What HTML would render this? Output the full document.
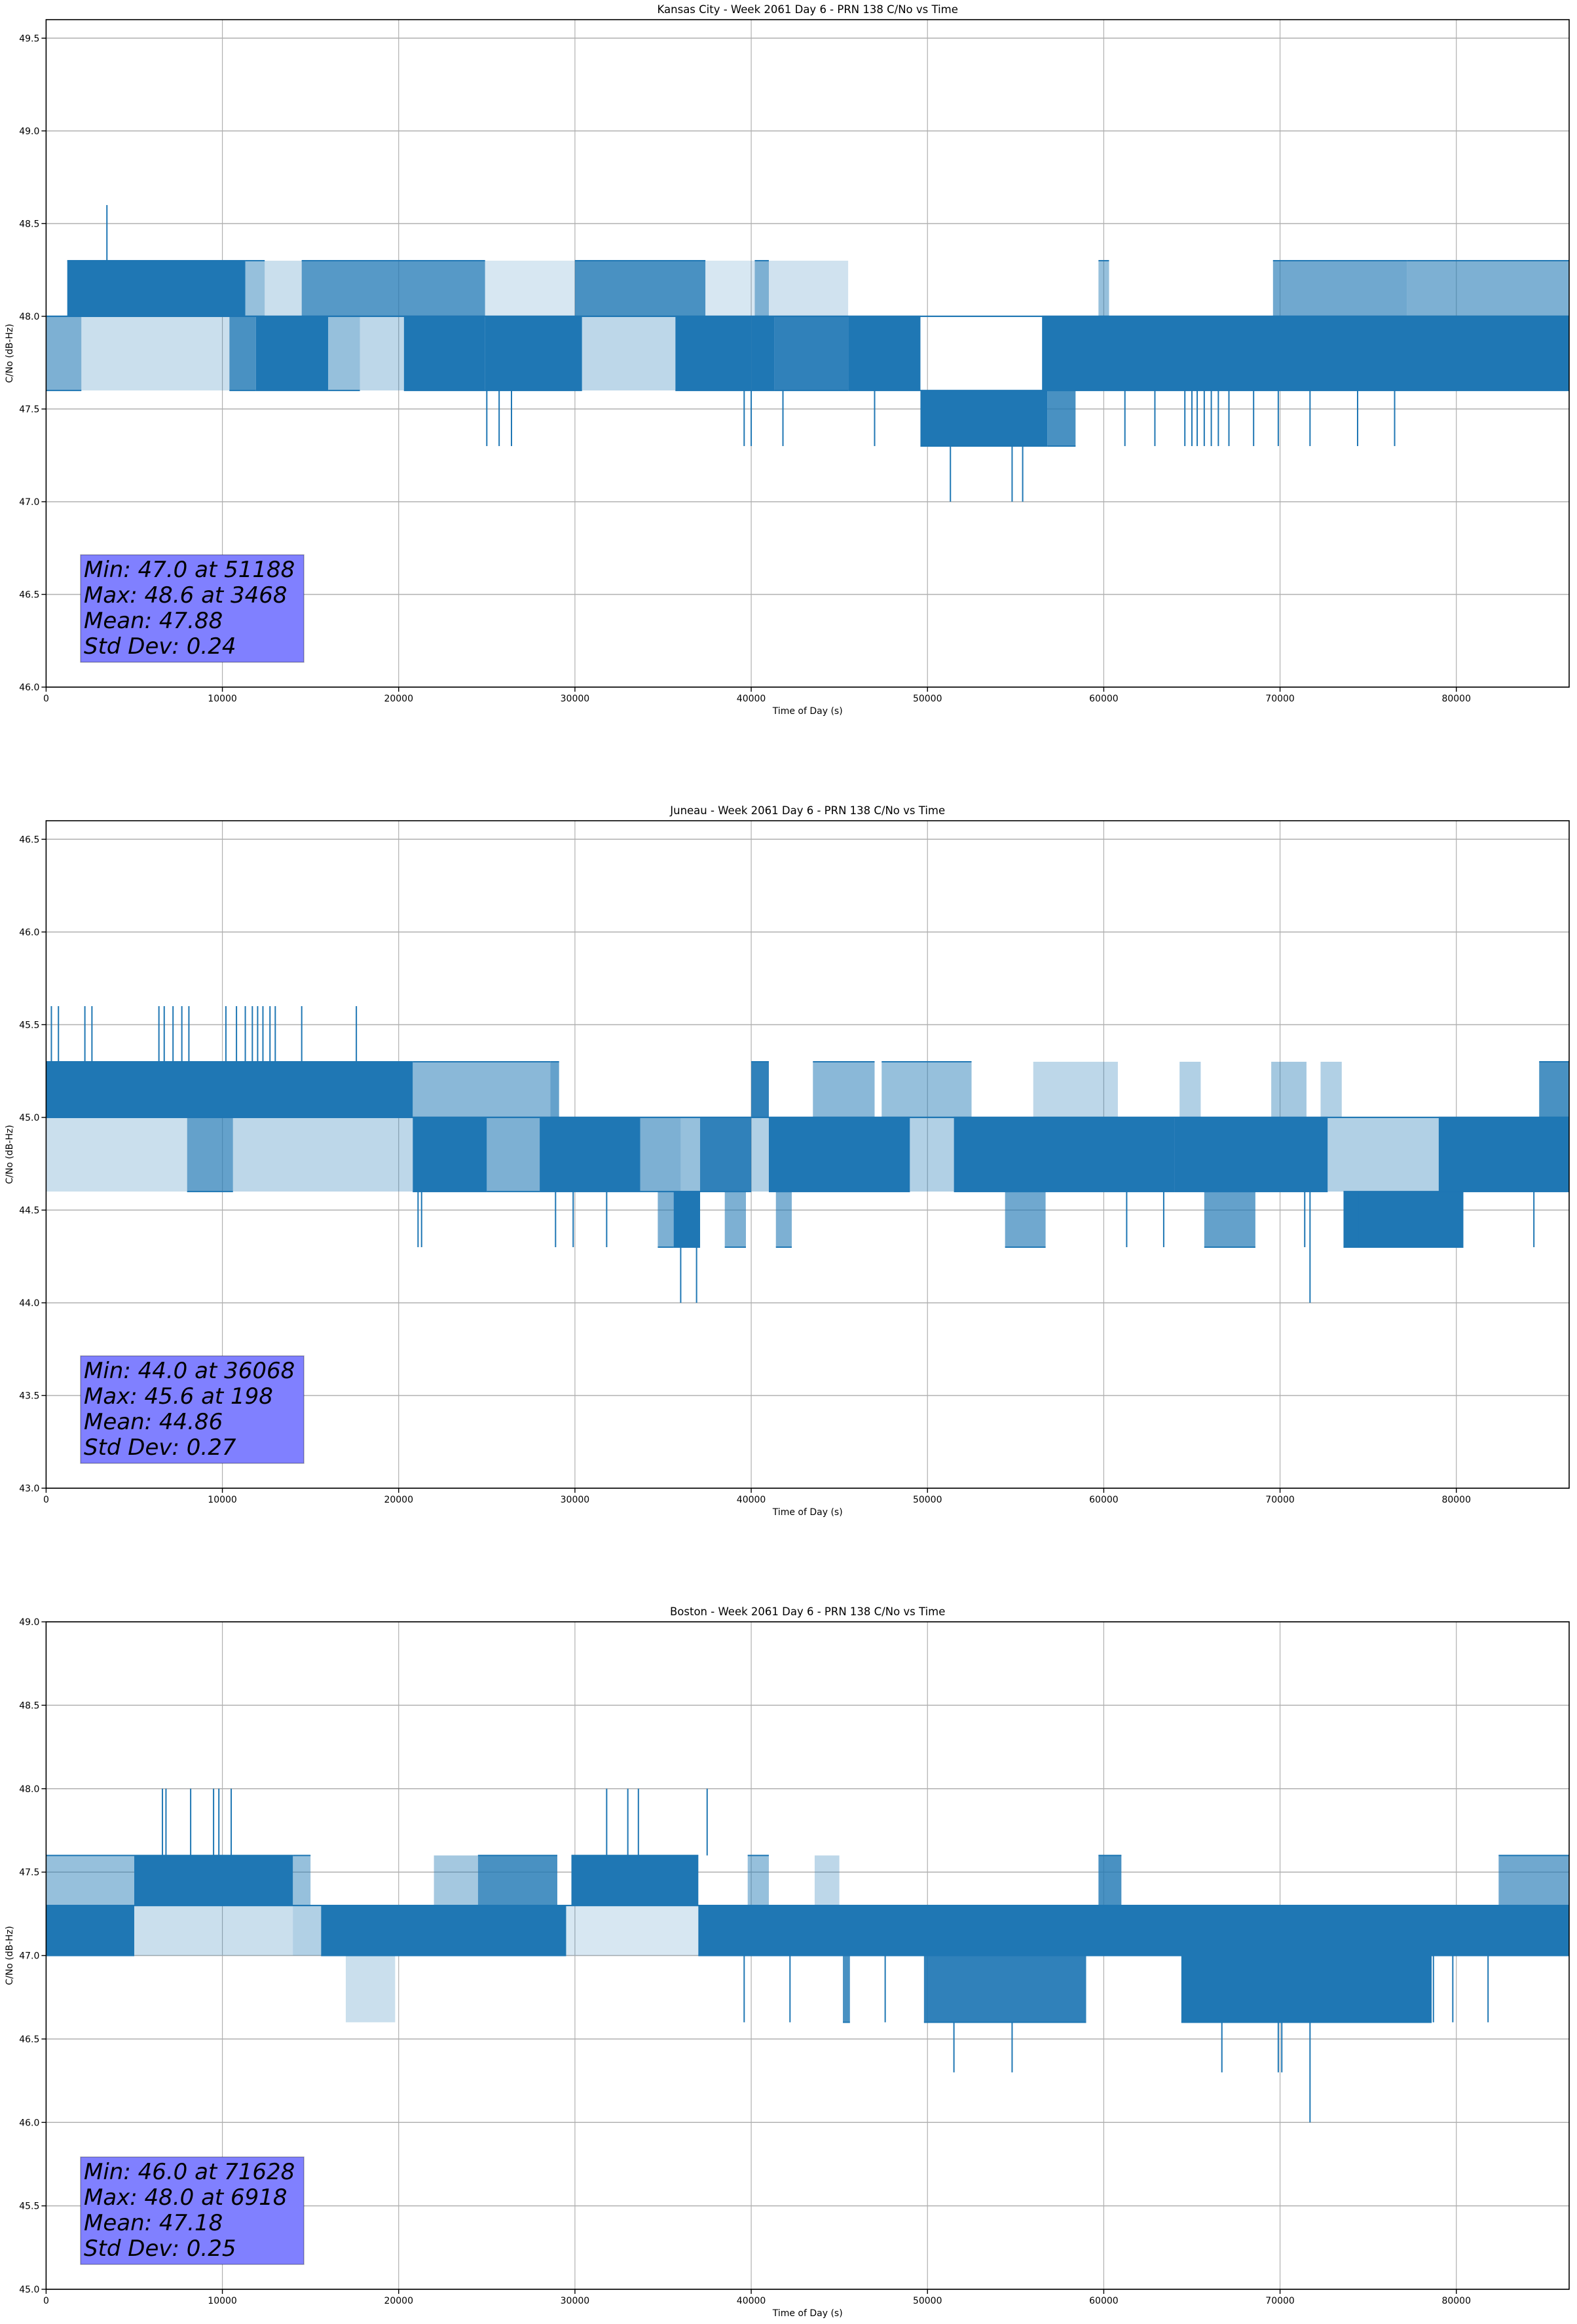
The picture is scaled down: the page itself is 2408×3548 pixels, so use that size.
<!DOCTYPE html>
<html><head><meta charset="utf-8">
<style>
html,body{margin:0;padding:0;background:#fff;}
svg{display:block;font-family:"DejaVu Sans","Liberation Sans",sans-serif;}
</style></head>
<body>
<svg id="fig" width="2408" height="3548" viewBox="0 0 2408 3548" xmlns="http://www.w3.org/2000/svg"></svg>
<script>
// ---------- shared axis data ----------
const xTicks = [0,10000,20000,30000,40000,50000,60000,70000,80000];
const xMax = 86400;

// ---------- Kansas City ----------
const kcTitle = "Kansas City - Week 2061 Day 6 - PRN 138 C/No vs Time";
const kcYTicks = [46.0,46.5,47.0,47.5,48.0,48.5,49.0,49.5];
const kcYRange = [46.0,49.6];
const kcBandStart = [1200,11300,12400,14500,24900,30000,37400,40200,41000,59700,69600,77200, 0,2000,10400,11900,16000,17800,20300,24900,30400,35700,40000,41300,45500,56500, 49600,56800, 0];
const kcBandEnd   = [11300,12400,14500,24900,30000,37400,40200,41000,45500,60300,77200,86400, 2000,10400,11900,16000,17800,20300,24900,30400,35700,40000,41300,45500,49600,86400, 56800,58400, 86400];
const kcBandLow   = [48,48,48,48,48,48,48,48,48,48,48,48, 47.6,47.6,47.6,47.6,47.6,47.6,47.6,47.6,47.6,47.6,47.6,47.6,47.6,47.6, 47.3,47.3, 48];
const kcBandHigh  = [48.3,48.3,48.3,48.3,48.3,48.3,48.3,48.3,48.3,48.3,48.3,48.3, 48,48,48,48,48,48,48,48,48,48,48,48,48,48, 47.6,47.6, 48];
const kcBandDensity = [0.9,0.3,0.1,0.55,0.05,0.6,0.05,0.4,0.08,0.3,0.45,0.4, 0.4,0.1,0.6,0.85,0.3,0.15,0.8,0.95,0.15,0.8,0.8,0.7,0.95,0.85, 0.95,0.6, 1];
const kcSpikeT    = [25000,25700,26400,39600,40000,41800,47000,61200,62900,64600,65000,65300,65700,66100,66500,67100,68500,69900,71700,74400,76500,51300,54800,55400,3450];
const kcSpikeFrom = [47.6,47.6,47.6,47.6,47.6,47.6,47.6,47.6,47.6,47.6,47.6,47.6,47.6,47.6,47.6,47.6,47.6,47.6,47.6,47.6,47.6,47.3,47.3,47.3,48.3];
const kcSpikeTo   = [47.3,47.3,47.3,47.3,47.3,47.3,47.3,47.3,47.3,47.3,47.3,47.3,47.3,47.3,47.3,47.3,47.3,47.3,47.3,47.3,47.3,47.0,47.0,47.0,48.6];
const kcStats = ["Min: 47.0 at 51188","Max: 48.6 at 3468","Mean: 47.88","Std Dev: 0.24"];

// ---------- Juneau ----------
const juTitle = "Juneau - Week 2061 Day 6 - PRN 138 C/No vs Time";
const juYTicks = [43.0,43.5,44.0,44.5,45.0,45.5,46.0,46.5];
const juYRange = [43.0,46.6];
const juBandStart = [0,20800,28600,40000,43500,47400,56000,64300,69500,72300,84700, 0,8000,10600,20800,25000,28000,33700,36000,37100,40000,41000,49000,51500,64000,72700,79000, 34700,35600,38500,41400,54400,65700,73600, 0];
const juBandEnd   = [20800,28600,29100,41000,47000,52500,60800,65500,71500,73500,86400, 8000,10600,20800,25000,28000,33700,36000,37100,40000,41000,49000,51500,64000,72700,79000,86400, 35600,37100,39700,42300,56700,68600,80400, 86400];
const juBandLow   = [45,45,45,45,45,45,45,45,45,45,45, 44.6,44.6,44.6,44.6,44.6,44.6,44.6,44.6,44.6,44.6,44.6,44.6,44.6,44.6,44.6,44.6, 44.3,44.3,44.3,44.3,44.3,44.3,44.3, 45];
const juBandHigh  = [45.3,45.3,45.3,45.3,45.3,45.3,45.3,45.3,45.3,45.3,45.3, 45,45,45,45,45,45,45,45,45,45,45,45,45,45,45,45, 44.6,44.6,44.6,44.6,44.6,44.6,44.6, 45];
const juBandDensity = [0.9,0.35,0.5,0.7,0.35,0.3,0.15,0.2,0.25,0.2,0.6, 0.1,0.5,0.15,0.85,0.4,0.9,0.4,0.3,0.7,0.2,0.85,0.2,0.85,0.8,0.2,0.85, 0.4,0.95,0.4,0.4,0.45,0.5,0.9, 1];
const juSpikeT    = [300,700,2200,2600,6400,6700,7200,7700,8100,10200,10800,11300,11700,12000,12300,12700,13000,14500,17600, 21100,21300,28900,29900,31800,61300,63400,71400,74500,84400, 36000,36900,71700];
const juSpikeFrom = [45.3,45.3,45.3,45.3,45.3,45.3,45.3,45.3,45.3,45.3,45.3,45.3,45.3,45.3,45.3,45.3,45.3,45.3,45.3, 44.6,44.6,44.6,44.6,44.6,44.6,44.6,44.6,44.6,44.6, 44.3,44.3,44.6];
const juSpikeTo   = [45.6,45.6,45.6,45.6,45.6,45.6,45.6,45.6,45.6,45.6,45.6,45.6,45.6,45.6,45.6,45.6,45.6,45.6,45.6, 44.3,44.3,44.3,44.3,44.3,44.3,44.3,44.3,44.3,44.3, 44.0,44.0,44.0];
const juStats = ["Min: 44.0 at 36068","Max: 45.6 at 198","Mean: 44.86","Std Dev: 0.27"];

// ---------- Boston ----------
const boTitle = "Boston - Week 2061 Day 6 - PRN 138 C/No vs Time";
const boYTicks = [45.0,45.5,46.0,46.5,47.0,47.5,48.0,48.5,49.0];
const boYRange = [45.0,49.0];
const boBandStart = [0,5000,14000,22000,24500,29800,39800,43600,59700,82400, 0,5000,14000,15600,29500,37000, 17000,45200,49800,64400, 0];
const boBandEnd   = [5000,14000,15000,24500,29000,37000,41000,45000,61000,86400, 5000,14000,15600,29500,37000,86400, 19800,45600,59000,78600, 86400];
const boBandLow   = [47.3,47.3,47.3,47.3,47.3,47.3,47.3,47.3,47.3,47.3, 47,47,47,47,47,47, 46.6,46.6,46.6,46.6, 47.3];
const boBandHigh  = [47.6,47.6,47.6,47.6,47.6,47.6,47.6,47.6,47.6,47.6, 47.3,47.3,47.3,47.3,47.3,47.3, 47,47,47,47, 47.3];
const boBandDensity = [0.3,0.9,0.3,0.25,0.6,0.95,0.3,0.15,0.6,0.45, 0.9,0.1,0.2,0.9,0.05,0.85, 0.1,0.6,0.7,0.85, 1];
const boSpikeT    = [6600,6800,8200,9500,9800,10500,31800,33000,33600,37500, 39600,42200,47600,78700,79800,81800, 51500,54800,66700,69900,70100, 71700];
const boSpikeFrom = [47.6,47.6,47.6,47.6,47.6,47.6,47.6,47.6,47.6,47.6, 47,47,47,47,47,47, 46.6,46.6,46.6,46.6,46.6, 46.6];
const boSpikeTo   = [48,48,48,48,48,48,48,48,48,48, 46.6,46.6,46.6,46.6,46.6,46.6, 46.3,46.3,46.3,46.3,46.3, 46.0];
const boStats = ["Min: 46.0 at 71628","Max: 48.0 at 6918","Mean: 47.18","Std Dev: 0.25"];

const NS = "http://www.w3.org/2000/svg";
const svg = document.getElementById('fig');
const X0 = 70.4, X1 = 2396, H = 1019;
const BLUE = "#1f77b4";

function mk(tag, attrs, parent){
  const e = document.createElementNS(NS, tag);
  for (const k in attrs) e.setAttribute(k, attrs[k]);
  parent.appendChild(e);
  return e;
}

function opac(d){
  if (d >= 0.85) return 1;
  return Math.min(1, 0.12 + d * 1.15);
}

function drawPlot(key, top, title, yRange, yTicks, bS, bE, bL, bH, bD, sT, sF, sTo, stats){
  const g = mk('g', {}, svg);
  
  
  const bottom = top + H;
  const xs = t => X0 + (t / xMax) * (X1 - X0);
  const ys = v => bottom - (v - yRange[0]) / (yRange[1] - yRange[0]) * H;

  const grid = mk('g', {}, g);
  
  
  xTicks.forEach(t => {
    const l = mk('line', {x1: xs(t), x2: xs(t), y1: top, y2: bottom, stroke: '#b0b0b0', 'stroke-width': 1.2}, grid);
    
    
  });
  yTicks.forEach(v => {
    const l = mk('line', {x1: X0, x2: X1, y1: ys(v), y2: ys(v), stroke: '#b0b0b0', 'stroke-width': 1.5}, grid);
    
    
  });

  const ser = mk('g', {}, g);
  
  
  for (let i = 0; i < bS.length; i++){
    const x1 = xs(bS[i]), x2 = xs(bE[i]);
    const yT = ys(bH[i]), yB = ys(bL[i]);
    if (yB - yT > 0.5){
      const r = mk('rect', {x: x1, y: yT, width: Math.max(2, x2 - x1), height: yB - yT, fill: BLUE, 'fill-opacity': opac(bD[i])}, ser);
      
      
    }
    if (bD[i] >= 0.3){
      const a = mk('rect', {x: x1, y: yT - 1, width: x2 - x1, height: 2, fill: BLUE}, ser);
      
      
      const b = mk('rect', {x: x1, y: yB - 1, width: x2 - x1, height: 2, fill: BLUE}, ser);
      
      
    }
  }
  for (let i = 0; i < sT.length; i++){
    const y1 = ys(sF[i]), y2 = ys(sTo[i]);
    const s = mk('rect', {x: xs(sT[i]) - 1, y: Math.min(y1, y2), width: 2, height: Math.abs(y2 - y1), fill: BLUE}, ser);
    
    
  }

  const fr = mk('rect', {x: X0, y: top, width: X1 - X0, height: H, fill: 'none', stroke: '#000', 'stroke-width': 1.6}, g);
  
  

  xTicks.forEach(t => {
    mk('line', {x1: xs(t), x2: xs(t), y1: bottom, y2: bottom + 7, stroke: '#000', 'stroke-width': 1.4}, g);
    const tx = mk('text', {x: xs(t), y: bottom + 22, 'font-size': 14, 'text-anchor': 'middle', fill: '#000'}, g);
    tx.textContent = String(t);
    
    
  });
  yTicks.forEach(v => {
    mk('line', {x1: X0 - 7, x2: X0, y1: ys(v), y2: ys(v), stroke: '#000', 'stroke-width': 1.4}, g);
    const tx = mk('text', {x: X0 - 10, y: ys(v) + 5, 'font-size': 14, 'text-anchor': 'end', fill: '#000'}, g);
    tx.textContent = v.toFixed(1);
    
    
  });

  const tt = mk('text', {x: (X0 + X1) / 2, y: top - 10, 'font-size': 16.5, 'text-anchor': 'middle', fill: '#000'}, g);
  tt.textContent = title;
  
  
  const xl = mk('text', {x: (X0 + X1) / 2, y: bottom + 41, 'font-size': 14, 'text-anchor': 'middle', fill: '#000'}, g);
  xl.textContent = 'Time of Day (s)';
  
  
  const cy = (top + bottom) / 2;
  const yl = mk('text', {x: 19, y: cy, 'font-size': 14, 'text-anchor': 'middle', fill: '#000', transform: 'rotate(-90 19 ' + cy + ')'}, g);
  yl.textContent = 'C/No (dB-Hz)';
  
  

  const box = mk('g', {}, g);
  
  
  mk('rect', {x: 123, y: top + 817, width: 341, height: 164, fill: '#8080ff', stroke: 'rgba(0,0,0,0.3)', 'stroke-width': 1.5}, box);
  stats.forEach((s, i) => {
    const t = mk('text', {x: 128, y: top + 851 + i * 39, 'font-size': 34, 'font-style': 'italic', fill: '#000'}, box);
    t.textContent = s;
    
    
  });
}

drawPlot('kansas-city', 30, kcTitle, kcYRange, kcYTicks, kcBandStart, kcBandEnd, kcBandLow, kcBandHigh, kcBandDensity, kcSpikeT, kcSpikeFrom, kcSpikeTo, kcStats);
drawPlot('juneau', 1253, juTitle, juYRange, juYTicks, juBandStart, juBandEnd, juBandLow, juBandHigh, juBandDensity, juSpikeT, juSpikeFrom, juSpikeTo, juStats);
drawPlot('boston', 2476, boTitle, boYRange, boYTicks, boBandStart, boBandEnd, boBandLow, boBandHigh, boBandDensity, boSpikeT, boSpikeFrom, boSpikeTo, boStats);
</script>
</body></html>
